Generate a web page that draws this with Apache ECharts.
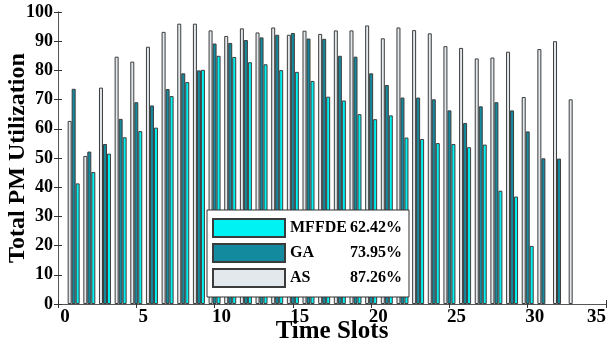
<!DOCTYPE html>
<html>
<head>
<meta charset="utf-8">
<script src="https://cdn.jsdelivr.net/npm/echarts@6/dist/echarts.min.js"></script>
<style>
html, body { margin: 0; padding: 0; background: #fff; }
#main { width: 610px; height: 342px; }
</style>
</head>
<body>
<div id="main"></div>
<script>
var slots = [1, 2, 3, 4, 5, 6, 7, 8, 9, 10, 11, 12, 13, 14, 15, 16, 17, 18, 19, 20,
	21, 22, 23, 24, 25, 26, 27, 28, 29, 30, 31, 32, 33];
var asVals = [62.7, 50.7, 74.1, 84.7, 83.0, 88.1, 93.2, 96.0, 96.0, 93.7, 91.8, 94.4, 93.0,
	94.7, 92.2, 93.6, 92.5, 93.7, 93.7, 95.4, 91.0, 94.7, 93.8, 92.7, 88.3, 87.7, 84.1, 84.4,
	86.4, 70.9, 87.3, 90.0, 70.1];
var gaVals = [73.7, 52.2, 54.8, 63.4, 69.1, 68.0, 73.6, 79.0, 80.0, 89.2, 89.4, 90.4, 91.3,
	92.2, 92.8, 90.9, 90.8, 85.0, 84.7, 79.0, 75.0, 70.7, 70.7, 70.1, 66.3, 62.0, 67.7, 69.1,
	66.3, 59.1, 49.9, 49.8];
var mfVals = [41.3, 45.2, 51.5, 57.1, 59.2, 60.4, 71.2, 76.0, 80.2, 85.0, 84.6, 82.8, 82.1,
	80.1, 79.5, 76.4, 71.0, 69.7, 65.0, 63.3, 64.6, 57.0, 56.5, 55.1, 54.8, 53.7, 54.6, 38.8,
	36.8, 19.9];
var seriesNames = ['MFFDE', 'GA', 'AS'];
var seriesAvg = ['62.42%', '73.95%', '87.26%'];

var FONT = '"Liberation Serif", "Times New Roman", serif';

function pairs(vals) {
	var out = [];
	for (var i = 0; i < vals.length; i++) {
		out.push([slots[i], vals[i]]);
	}
	return out;
}

function barSeries(name, vals, color) {
	return {
		name: name,
		type: 'bar',
		data: pairs(vals),
		barWidth: 4,
		barGap: '0%',
		itemStyle: {
			color: color,
			borderColor: '#3c3c3c',
			borderWidth: 1
		},
		emphasis: { disabled: true },
		animation: false
	};
}

var frameAxis = {
	axisLine: { show: true, lineStyle: { color: '#555', width: 1 } },
	axisTick: { show: true, inside: true, length: 4, lineStyle: { color: '#333' } },
	axisLabel: { show: false },
	splitLine: { show: false }
};

var chart = echarts.init(document.getElementById('main'));
var option = {
	animation: false,
	grid: { left: 58, right: 4, top: 12, bottom: 38, containLabel: false, outerBoundsMode: 'none' },
	legend: {
		data: seriesNames,
		orient: 'vertical',
		left: 207,
		top: 210,
		itemWidth: 72,
		itemHeight: 18,
		itemGap: 5,
		icon: 'rect',
		selectedMode: false,
		backgroundColor: '#fff',
		borderColor: '#333',
		borderWidth: 1,
		padding: [8, 7, 9, 5],
		formatter: function(name) {
			return '{n|' + name + '}{p|' + seriesAvg[seriesNames.indexOf(name)] + '}';
		},
		textStyle: {
			rich: {
				n: { width: 58, fontFamily: FONT, fontWeight: 'bold', fontSize: 16, color: '#000' },
				p: { width: 54, align: 'right', fontFamily: FONT, fontWeight: 'bold', fontSize: 16, color: '#000' }
			}
		}
	},
	xAxis: [{
		type: 'value',
		min: 0,
		max: 35,
		interval: 5,
		name: 'Time Slots',
		nameLocation: 'middle',
		nameMoveOverlap: false,
		nameGap: 15,
		nameTextStyle: { fontFamily: FONT, fontWeight: 'bold', fontSize: 25, color: '#000' },
		axisLine: { show: true, lineStyle: { color: '#555' } },
		axisTick: { show: true, inside: true, length: 4, lineStyle: { color: '#333' } },
		axisLabel: {
			margin: 4,
			padding: [0, 0, 0, 14],
			alignMaxLabel: 'right',
			fontFamily: FONT,
			fontWeight: 'bold',
			fontSize: 19,
			color: '#000'
		},
		splitLine: { show: false }
	}, Object.assign({
		type: 'value',
		position: 'top',
		min: 0,
		max: 35,
		interval: 5
	}, frameAxis)],
	yAxis: [{
		type: 'value',
		min: 0,
		max: 100,
		interval: 10,
		name: 'Total PM Utilization',
		nameLocation: 'middle',
		nameMoveOverlap: false,
		nameGap: 28,
		nameTextStyle: { fontFamily: FONT, fontWeight: 'bold', fontSize: 24, color: '#000' },
		axisLine: { show: true, lineStyle: { color: '#555' } },
		axisTick: { show: true, inside: true, length: 4, lineStyle: { color: '#333' } },
		axisLabel: {
			margin: 5,
			fontFamily: FONT,
			fontWeight: 'bold',
			fontSize: 18,
			color: '#000'
		},
		splitLine: { show: false }
	}, Object.assign({
		type: 'value',
		position: 'right',
		min: 0,
		max: 100,
		interval: 10
	}, frameAxis)],
	series: [
		barSeries('AS', asVals, '#e2e8ec'),
		barSeries('GA', gaVals, '#148a9e'),
		barSeries('MFFDE', mfVals, '#00f2f2')
	]
};
chart.setOption(option);
</script>
</body>
</html>
